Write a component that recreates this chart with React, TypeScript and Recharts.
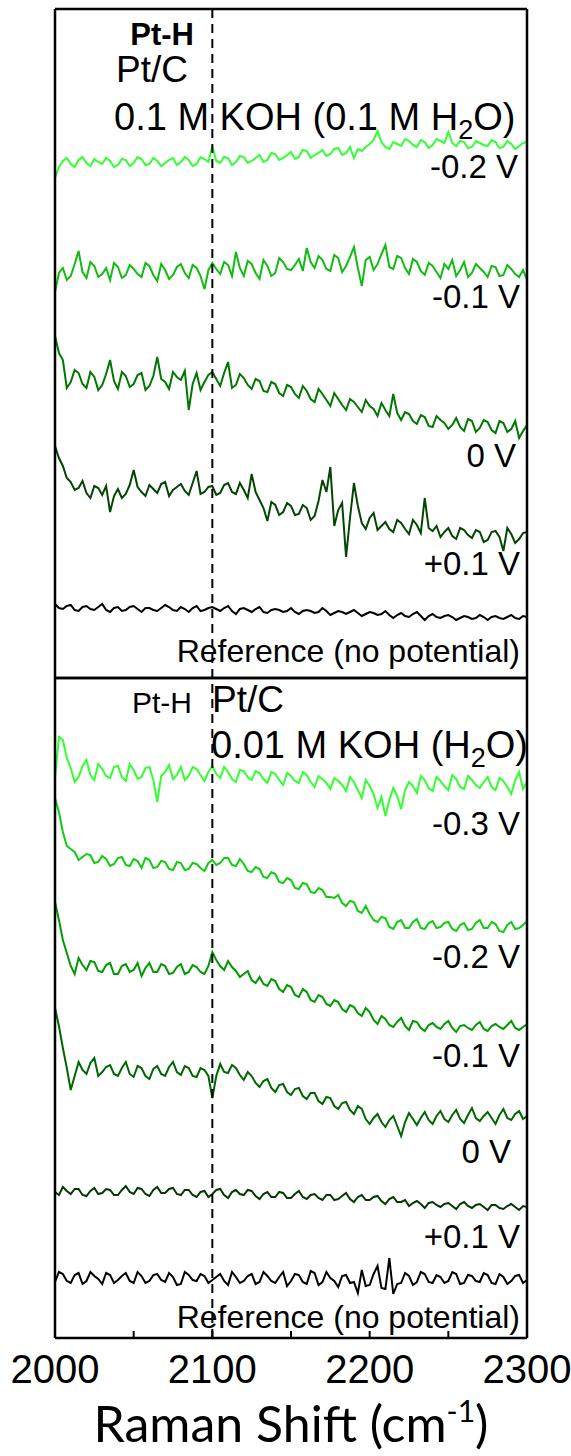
import React from 'react';
import { LineChart, Line, XAxis, YAxis, ReferenceLine } from 'recharts';

// Raman shift (cm-1), sampled every 2.5 cm-1
const shift = [
  2000, 2002.5, 2005, 2007.5, 2010, 2012.5, 2015, 2017.5,
  2020, 2022.5, 2025, 2027.5, 2030, 2032.5, 2035, 2037.5,
  2040, 2042.5, 2045, 2047.5, 2050, 2052.5, 2055, 2057.5,
  2060, 2062.5, 2065, 2067.5, 2070, 2072.5, 2075, 2077.5,
  2080, 2082.5, 2085, 2087.5, 2090, 2092.5, 2095, 2097.5,
  2100, 2102.5, 2105, 2107.5, 2110, 2112.5, 2115, 2117.5,
  2120, 2122.5, 2125, 2127.5, 2130, 2132.5, 2135, 2137.5,
  2140, 2142.5, 2145, 2147.5, 2150, 2152.5, 2155, 2157.5,
  2160, 2162.5, 2165, 2167.5, 2170, 2172.5, 2175, 2177.5,
  2180, 2182.5, 2185, 2187.5, 2190, 2192.5, 2195, 2197.5,
  2200, 2202.5, 2205, 2207.5, 2210, 2212.5, 2215, 2217.5,
  2220, 2222.5, 2225, 2227.5, 2230, 2232.5, 2235, 2237.5,
  2240, 2242.5, 2245, 2247.5, 2250, 2252.5, 2255, 2257.5,
  2260, 2262.5, 2265, 2267.5, 2270, 2272.5, 2275, 2277.5,
  2280, 2282.5, 2285, 2287.5, 2290, 2292.5, 2295, 2297.5,
  2300,
];

const majorTicks = [2000, 2100, 2200, 2300];
const allTicks = [2000, 2050, 2100, 2150, 2200, 2250, 2300];

// upper panel: Pt/C in 0.1 M KOH (0.1 M H2O), offset intensities (a.u.)
const top02 = [
  500, 511, 517, 520, 514, 511, 518, 521,
  515, 512, 519, 516, 514, 520, 517, 511,
  513, 519, 518, 512, 515, 521, 519, 513,
  514, 520, 517, 512, 515, 518, 520, 513,
  516, 521, 518, 512, 514, 521, 519, 516,
  532, 517, 515, 521, 520, 513, 516, 522,
  521, 515, 517, 520, 523, 516, 518, 525,
  524, 518, 520, 523, 526, 519, 521, 528,
  527, 520, 523, 525, 528, 522, 524, 529,
  530, 523, 525, 531, 520, 529, 527, 531,
  534, 538, 547, 536, 531, 529, 536, 534,
  532, 539, 537, 533, 531, 538, 536, 530,
  533, 539, 537, 535, 546, 535, 532, 537,
  536, 530, 531, 537, 535, 533, 532, 538,
  536, 530, 531, 537, 534, 529, 532, 535,
  536,
];
const top01 = [
  386, 405, 410, 398, 402, 414, 427, 406,
  400, 416, 412, 401, 404, 410, 398, 415,
  411, 400, 403, 413, 409, 404, 401, 415,
  412, 403, 397, 414, 408, 399, 403, 411,
  414, 405, 400, 413, 410, 402, 389, 408,
  415, 409, 404, 416, 413, 402, 426, 410,
  402, 417, 414, 405, 399, 418, 412, 402,
  405, 420, 416, 409, 408, 413, 419, 407,
  430, 416, 410, 422, 418, 409, 407, 423,
  420, 406, 412, 421, 431, 410, 392, 418,
  421, 408, 414, 424, 433, 411, 409, 422,
  420, 410, 404, 419, 416, 407, 403, 415,
  412, 406, 400, 414, 409, 418, 402, 408,
  416, 401, 405, 414, 410, 406, 401, 412,
  411, 402, 403, 413, 409, 404, 401, 408,
  398,
];
const top0 = [
  342, 325, 318, 290, 296, 308, 305, 294,
  290, 306, 301, 288, 293, 304, 318, 297,
  289, 306, 302, 291, 294, 303, 305, 288,
  292, 302, 321, 299, 296, 289, 306, 301,
  298, 307, 268, 294, 305, 288, 296, 303,
  306, 299, 292, 305, 316, 290, 293, 304,
  300, 293, 289, 299, 297, 287, 286, 296,
  294, 285, 282, 293, 291, 284, 280, 292,
  287, 279, 276, 289, 284, 278, 272, 285,
  279, 273, 268, 279, 276, 271, 266, 278,
  272, 269, 262, 275, 268, 262, 284, 265,
  258, 266, 264, 257, 254, 263, 261, 252,
  251, 262, 258, 255, 249, 253, 260, 251,
  247, 259, 257, 246, 250, 258, 256, 248,
  245, 257, 255, 246, 249, 257, 240, 247,
  253,
];
const topP01 = [
  232, 220, 212, 200, 196, 188, 190, 197,
  185, 180, 192, 190, 183, 192, 166, 182,
  189, 180, 184, 193, 208, 191, 186, 182,
  193, 189, 185, 194, 196, 182, 188, 191,
  194, 187, 183, 195, 207, 184, 186, 191,
  192, 183, 185, 193, 195, 186, 184, 195,
  188, 180, 204, 186, 178, 170, 157, 176,
  173, 163, 166, 175, 172, 163, 164, 173,
  170, 158, 162, 177, 198, 186, 211, 152,
  168, 175, 121, 160, 195, 172, 155, 149,
  160, 165, 148, 152, 156, 149, 146, 158,
  155, 149, 144, 158, 153, 145, 180, 150,
  147, 152, 141, 146, 150, 142, 139, 150,
  148, 143, 140, 148, 146, 136, 138, 146,
  147, 141, 127, 150, 144, 135, 139, 145,
  146,
];
const topRef = [
  74, 70, 69, 72, 73, 68, 67, 71,
  72, 69, 68, 71, 74, 68, 66, 70,
  71, 67, 68, 71, 72, 69, 66, 70,
  70, 68, 67, 70, 73, 71, 68, 67,
  71, 69, 66, 70, 72, 67, 68, 70,
  71, 69, 67, 70, 72, 67, 64, 69,
  70, 68, 66, 69, 71, 66, 65, 68,
  69, 68, 66, 67, 70, 66, 64, 67,
  68, 67, 65, 66, 70, 67, 63, 65,
  67, 66, 64, 66, 68, 65, 62, 64,
  66, 65, 63, 64, 67, 63, 60, 63,
  65, 62, 61, 64, 66, 62, 58, 62,
  64, 61, 60, 62, 63, 61, 58, 60,
  62, 61, 59, 60, 63, 61, 58, 61,
  62, 60, 59, 61, 63, 60, 59, 62,
  61,
];

// lower panel: Pt/C in 0.01 M KOH (H2O)
const bot03 = [
  560, 601, 598, 580, 570, 556, 561, 572,
  578, 563, 558, 574, 569, 562, 560, 571,
  572, 561, 557, 574, 568, 559, 561, 570,
  571, 558, 536, 562, 566, 573, 559, 563,
  571, 558, 562, 571, 569, 563, 557, 566,
  572, 564, 560, 571, 566, 559, 556, 568,
  567, 561, 558, 567, 565, 559, 555, 566,
  564, 558, 553, 565, 562, 557, 555, 566,
  563, 556, 551, 562, 559, 555, 549, 560,
  557, 553, 547, 561, 556, 548, 540, 558,
  552, 544, 530, 541, 522, 538, 550, 542,
  529, 548, 556, 552, 545, 562, 558, 550,
  547, 561, 557, 552, 548, 563, 559, 551,
  549, 562, 558, 553, 550, 556, 561, 551,
  548, 560, 557, 551, 544, 558, 566, 549,
  556,
];
const bot02 = [
  540, 526, 506, 492, 489, 486, 478, 481,
  484, 483, 475, 476, 482, 479, 472, 474,
  480, 481, 473, 472, 479, 477, 470, 480,
  478, 470, 471, 477, 476, 469, 468, 476,
  475, 468, 469, 475, 474, 470, 467, 475,
  478, 473, 475, 480, 480, 473, 472, 479,
  474, 467, 466, 471, 469, 461, 460, 466,
  464, 456, 455, 460, 458, 450, 449, 455,
  454, 446, 445, 450, 448, 441, 441, 440,
  443, 435, 432, 437, 436, 427, 425, 432,
  424, 418, 416, 421, 420, 411, 409, 416,
  418, 410, 410, 416, 419, 410, 409, 415,
  417, 410, 411, 415, 416, 409, 407, 413,
  415, 408, 409, 415, 418, 410, 410, 416,
  414, 407, 406, 413, 416, 409, 410, 413,
  417,
];
const bot01 = [
  436, 418, 398, 385, 372, 364, 380, 373,
  368, 377, 376, 367, 366, 373, 375, 364,
  364, 372, 374, 366, 368, 375, 362, 370,
  375, 366, 366, 374, 372, 364, 365, 371,
  374, 364, 366, 373, 371, 366, 364, 372,
  386, 378, 372, 368, 377, 371, 367, 361,
  364, 367, 358, 355, 361, 354, 352, 359,
  357, 349, 346, 353, 351, 343, 341, 349,
  346, 338, 336, 343, 341, 334, 332, 338,
  336, 329, 326, 333, 331, 325, 322, 330,
  326, 318, 314, 322, 319, 313, 311, 316,
  320, 312, 308, 317, 316, 310, 307, 313,
  315, 311, 309, 314, 317, 310, 306, 312,
  313, 310, 308, 313, 316, 309, 307, 312,
  314, 311, 309, 313, 317, 310, 308, 311,
  314,
];
const bot0 = [
  330, 312, 290, 270, 248, 262, 276, 268,
  264, 275, 280, 262, 266, 271, 273, 264,
  262, 270, 276, 264, 261, 272, 270, 262,
  259, 269, 272, 264, 262, 271, 276, 266,
  263, 272, 270, 262, 261, 270, 268, 262,
  240, 262, 274, 266, 265, 273, 270, 263,
  258, 266, 262, 255, 251, 257, 259, 250,
  246, 253, 254, 246, 243, 249, 250, 242,
  239, 245, 245, 237, 234, 241, 240, 232,
  229, 235, 236, 228, 224, 232, 229, 219,
  214, 220, 224, 216, 211, 218, 222, 212,
  202, 216, 225, 219, 213, 220, 226, 218,
  214, 222, 227, 219, 216, 223, 228, 219,
  215, 223, 230, 220, 217, 222, 226, 220,
  214, 223, 229, 220, 218, 224, 227, 219,
  222,
];
const botP01 = [
  146, 143, 151, 147, 144, 149, 149, 143,
  142, 147, 150, 144, 145, 149, 148, 143,
  143, 148, 152, 146, 144, 150, 149, 144,
  142, 148, 151, 145, 145, 149, 150, 144,
  143, 148, 148, 143, 141, 146, 147, 141,
  144, 148, 149, 143, 140, 146, 148, 144,
  143, 148, 147, 142, 139, 144, 146, 141,
  141, 146, 145, 140, 140, 144, 147, 141,
  139, 143, 144, 140, 138, 143, 143, 138,
  139, 142, 145, 139, 136, 141, 143, 138,
  138, 141, 142, 137, 134, 139, 141, 136,
  136, 138, 132, 135, 137, 134, 130, 135,
  136, 133, 131, 134, 135, 132, 129, 134,
  136, 132, 130, 133, 134, 131, 128, 133,
  133, 130, 129, 132, 134, 131, 128, 132,
  131,
];
const botRef = [
  56, 66, 64, 57, 55, 63, 65, 54,
  57, 66, 62, 59, 54, 65, 63, 55,
  58, 62, 65, 57, 55, 66, 62, 55,
  57, 63, 64, 58, 56, 65, 61, 53,
  54, 66, 63, 58, 57, 64, 62, 55,
  58, 61, 64, 57, 53, 66, 61, 55,
  57, 62, 64, 54, 56, 66, 62, 57,
  55, 61, 66, 52, 57, 64, 63, 56,
  54, 67, 65, 53, 56, 66, 60, 57,
  51, 62, 63, 55, 56, 45, 68, 52,
  53, 64, 72, 50, 49, 80, 44, 54,
  55, 65, 62, 53, 56, 66, 64, 56,
  55, 63, 61, 55, 57, 66, 64, 54,
  55, 63, 62, 57, 56, 65, 63, 55,
  54, 64, 61, 54, 57, 62, 63, 55,
  58,
];

const topLines = [
  { key: 'm02', values: top02, color: '#33ff33' },
  { key: 'm01', values: top01, color: '#11bb11' },
  { key: 'z0', values: top0, color: '#007700' },
  { key: 'p01', values: topP01, color: '#034503' },
  { key: 'ref', values: topRef, color: '#000000' },
];
const bottomLines = [
  { key: 'm03', values: bot03, color: '#33ff33' },
  { key: 'm02', values: bot02, color: '#11cc11' },
  { key: 'm01', values: bot01, color: '#009900' },
  { key: 'z0', values: bot0, color: '#006600' },
  { key: 'p01', values: botP01, color: '#033803' },
  { key: 'ref', values: botRef, color: '#000000' },
];

function buildRows(lines: { key: string; values: number[] }[]) {
  return shift.map((x, i) => {
    const row: Record<string, number> = { x };
    lines.forEach((l) => (row[l.key] = l.values[i]));
    return row;
  });
}

const topData = buildRows(topLines);
const bottomData = buildRows(bottomLines);

const FONT = '"Liberation Sans", Arial, sans-serif';

function InwardTick(props: any) {
  const { x, y, payload, withLabel } = props;
  const v = payload.value;
  return (
    <g>
      {v !== 2000 && v !== 2300 && (
        <line x1={x} x2={x} y1={y} y2={y - 7} stroke="#000" strokeWidth={2} />
      )}
      {withLabel && majorTicks.includes(v) && (
        <text x={x} y={y + 45} textAnchor="middle" fontSize={40} fontFamily={FONT} fill="#000">
          {v}
        </text>
      )}
    </g>
  );
}

export default function App() {
  const frame = { stroke: '#000', strokeWidth: 2.5 };
  return (
    <div style={{ position: 'relative', width: 571, height: 1456, background: '#fff' }}>
      <style>{`body{margin:0}`}</style>
      <div style={{ position: 'absolute', left: 0, top: 0 }}>
        <LineChart width={571} height={680} data={topData} margin={{ top: 9, right: 44, bottom: 2, left: 55 }}>
          <XAxis
            dataKey="x"
            type="number"
            domain={[2000, 2300]}
            ticks={allTicks}
            height={0}
            tickSize={0}
            tickMargin={0}
            axisLine={false}
            tickLine={false}
            tick={<InwardTick withLabel={false} />}
          />
          <YAxis type="number" domain={[0, 669]} hide />
          {topLines.map((l) => (
            <Line key={l.key} dataKey={l.key} stroke={l.color} strokeWidth={2} dot={false} isAnimationActive={false} />
          ))}
          <ReferenceLine x={2100} stroke="#000" strokeWidth={2} strokeDasharray="9 6" />
          <ReferenceLine y={669} {...frame} />
          <ReferenceLine y={0} {...frame} />
          <ReferenceLine x={2000} {...frame} />
          <ReferenceLine x={2300} {...frame} />
        </LineChart>
      </div>
      <div style={{ position: 'absolute', left: 0, top: 670 }}>
        <LineChart width={571} height={786} data={bottomData} margin={{ top: 8, right: 44, bottom: 58, left: 55 }}>
          <XAxis
            dataKey="x"
            type="number"
            domain={[2000, 2300]}
            ticks={allTicks}
            height={60}
            tickSize={0}
            tickMargin={0}
            axisLine={false}
            tickLine={false}
            tick={<InwardTick withLabel />}
          />
          <YAxis type="number" domain={[0, 660]} hide />
          {bottomLines.map((l) => (
            <Line key={l.key} dataKey={l.key} stroke={l.color} strokeWidth={2} dot={false} isAnimationActive={false} />
          ))}
          <ReferenceLine x={2100} stroke="#000" strokeWidth={2} strokeDasharray="9 6" />
          <ReferenceLine y={660} {...frame} />
          <ReferenceLine y={0} {...frame} />
          <ReferenceLine x={2000} {...frame} />
          <ReferenceLine x={2300} {...frame} />
        </LineChart>
      </div>
      <svg
        width={571}
        height={1456}
        style={{ position: 'absolute', left: 0, top: 0, pointerEvents: 'none' }}
        fontFamily={FONT}
        fill="#000"
      >
        <text x={194} y={45} textAnchor="end" fontSize={31} fontWeight="bold">Pt-H</text>
        <text x={116} y={82} fontSize={37}>Pt/C</text>
        <text x={114} y={130} fontSize={38}>
          0.1 M KOH (0.1 M H<tspan fontSize={27} dy={9}>2</tspan><tspan dy={-9}>O)</tspan>
        </text>
        <text x={518} y={178} textAnchor="end" fontSize={33}>-0.2 V</text>
        <text x={520} y={308} textAnchor="end" fontSize={33}>-0.1 V</text>
        <text x={516} y={467} textAnchor="end" fontSize={33}>0 V</text>
        <text x={520} y={575} textAnchor="end" fontSize={33}>+0.1 V</text>
        <text x={520} y={662} textAnchor="end" fontSize={32}>Reference (no potential)</text>

        <text x={192} y={713} textAnchor="end" fontSize={30}>Pt-H</text>
        <text x={212} y={712} fontSize={37}>Pt/C</text>
        <text x={211} y={758} fontSize={38}>
          0.01 M KOH (H<tspan fontSize={27} dy={9}>2</tspan><tspan dy={-9}>O)</tspan>
        </text>
        <text x={520} y={835} textAnchor="end" fontSize={33}>-0.3 V</text>
        <text x={520} y={968} textAnchor="end" fontSize={33}>-0.2 V</text>
        <text x={520} y={1067} textAnchor="end" fontSize={33}>-0.1 V</text>
        <text x={511} y={1163} textAnchor="end" fontSize={33}>0 V</text>
        <text x={520} y={1248} textAnchor="end" fontSize={33}>+0.1 V</text>
        <text x={520} y={1328} textAnchor="end" fontSize={32}>Reference (no potential)</text>

        <text x={291} y={1442} textAnchor="middle" fontSize={50} fontFamily="Lato, sans-serif">
          Raman Shift (cm<tspan fontSize={30} dy={-20}>-1</tspan><tspan dy={20}>)</tspan>
        </text>
      </svg>
    </div>
  );
}
